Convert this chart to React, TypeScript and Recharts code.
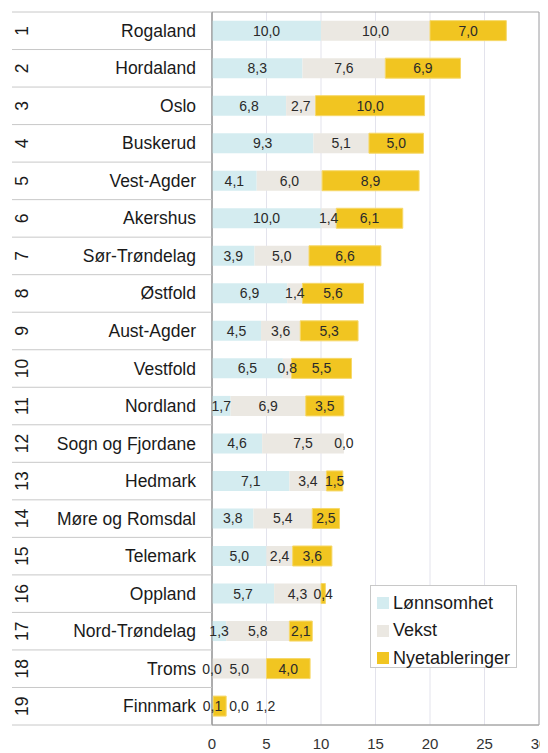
import React from 'react';
import {
  BarChart,
  Bar,
  XAxis,
  YAxis,
  CartesianGrid,
  LabelList,
  Legend,
  ReferenceArea,
} from 'recharts';

const categories = [
  'Rogaland', 'Hordaland', 'Oslo', 'Buskerud', 'Vest-Agder', 'Akershus',
  'Sør-Trøndelag', 'Østfold', 'Aust-Agder', 'Vestfold', 'Nordland',
  'Sogn og Fjordane', 'Hedmark', 'Møre og Romsdal', 'Telemark', 'Oppland',
  'Nord-Trøndelag', 'Troms', 'Finnmark',
];
const ranks = ['1','2','3','4','5','6','7','8','9','10','11','12','13','14','15','16','17','18','19'];
const lonnsomhet = [10.0, 8.3, 6.8, 9.3, 4.1, 10.0, 3.9, 6.9, 4.5, 6.5, 1.7, 4.6, 7.1, 3.8, 5.0, 5.7, 1.3, 0.0, 0.1];
const vekst = [10.0, 7.6, 2.7, 5.1, 6.0, 1.4, 5.0, 1.4, 3.6, 0.8, 6.9, 7.5, 3.4, 5.4, 2.4, 4.3, 5.8, 5.0, 0.0];
const nyetableringer = [7.0, 6.9, 10.0, 5.0, 8.9, 6.1, 6.6, 5.6, 5.3, 5.5, 3.5, 0.0, 1.5, 2.5, 3.6, 0.4, 2.1, 4.0, 1.2];
const xTicks = [0, 5, 10, 15, 20, 25, 30];
const seriesNames = ['Lønnsomhet', 'Vekst', 'Nyetableringer'];
const seriesColors = ['#d4ecf0', '#ebe8e2', '#f1c521'];

const data = categories.map((name, i) => ({
  name,
  rank: ranks[i],
  lonnsomhet: lonnsomhet[i],
  vekst: vekst[i],
  nyetableringer: nyetableringer[i],
}));

const CHART_W = 540;
const CHART_H = 745;
const M_TOP = 4;
const M_RIGHT = 9;
const Y_AXIS_W = 204;
const X_AXIS_H = 28;
const PLOT_W = CHART_W - Y_AXIS_W - M_RIGHT;
const PLOT_H = CHART_H - M_TOP - X_AXIS_H;
const ROW_H = PLOT_H / categories.length;
const X_MAX = 30;
const PPU = PLOT_W / X_MAX;
const FONT = '"Liberation Sans", Arial, Helvetica, sans-serif';
const LABEL_FS = 14;

const fmt = (v: number) => v.toFixed(1).replace('.', ',');
const textW = (s: string) =>
  s.split('').reduce((a, c) => a + (c === ',' ? 0.278 : 0.556), 0) * LABEL_FS;

const YTick = (props: any) => {
  const { y, payload, index } = props;
  const i = typeof index === 'number' ? index : categories.indexOf(payload.value);
  const half = ROW_H / 2;
  return (
    <g>
      {i === 0 && (
        <line x1={4} x2={Y_AXIS_W} y1={y - half} y2={y - half} stroke="#c8c8c8" strokeWidth={1} />
      )}
      <line x1={4} x2={Y_AXIS_W} y1={y + half} y2={y + half} stroke="#c8c8c8" strokeWidth={1} />
      <text
        x={188}
        y={y}
        textAnchor="end"
        dominantBaseline="central"
        fontSize={17.5}
        fontFamily={FONT}
        fill="#1a1a1a"
      >
        {payload.value}
      </text>
      <text
        x={14}
        y={y}
        textAnchor="middle"
        dominantBaseline="central"
        fontSize={17.5}
        fontFamily={FONT}
        fill="#1a1a1a"
        transform={`rotate(-90 14 ${y})`}
      >
        {ranks[i]}
      </text>
    </g>
  );
};

// Each series draws its own label; zero-valued series (whose bar has no width)
// get their label drawn by the first non-zero series of the same row.
const makeLabel = (series: number) => (props: any) => {
  const { x, y, height, value } = props;
  const i = categories.indexOf(value);
  if (i < 0) return null;
  const vals = [lonnsomhet[i], vekst[i], nyetableringer[i]];
  let cumStart = 0;
  for (let k = 0; k < series; k++) cumStart += vals[k];
  const px = (v: number) => Number(x) + (v - cumStart) * PPU;
  const positions: number[] = [];
  let prevRight = -Infinity;
  let cum = 0;
  for (let k = 0; k < 3; k++) {
    const c = px(cum + vals[k] / 2);
    const w = textW(fmt(vals[k]));
    let cx = c;
    if (c - w / 2 < prevRight + 1) cx = prevRight + 7 + w / 2;
    prevRight = cx + w / 2;
    cum += vals[k];
    positions.push(cx);
  }
  const firstNonZero = vals.findIndex((v) => v > 0);
  const toDraw = [series];
  if (series === firstNonZero) {
    vals.forEach((v, k) => {
      if (v === 0) toDraw.push(k);
    });
  }
  const cy = Number(y) + Number(height) / 2;
  return (
    <g>
      {toDraw.map((k) => (
        <text
          key={k}
          x={positions[k]}
          y={cy}
          textAnchor="middle"
          dominantBaseline="central"
          fontSize={LABEL_FS}
          fontFamily={FONT}
          fill="#2a2a2a"
        >
          {fmt(vals[k])}
        </text>
      ))}
    </g>
  );
};

const LegendBox = () => (
  <div
    style={{
      position: 'relative',
      width: 147,
      height: 83,
      border: '1px solid #c8c8c8',
      background: '#ffffff',
      boxSizing: 'border-box',
      fontFamily: FONT,
      fontSize: 18,
      color: '#1a1a1a',
    }}
  >
    {seriesNames.map((n, k) => (
      <div
        key={n}
        style={{
          position: 'absolute',
          left: 6,
          top: 17 + k * 27.5 - 11,
          height: 22,
          display: 'flex',
          alignItems: 'center',
          whiteSpace: 'nowrap',
        }}
      >
        <span
          style={{
            display: 'inline-block',
            width: 12,
            height: 12,
            background: seriesColors[k],
            marginRight: 4,
          }}
        />
        <span>{n}</span>
      </div>
    ))}
  </div>
);

export default function App() {
  return (
    <div style={{ width: CHART_W, height: CHART_H, fontFamily: FONT }}>
      <BarChart
        width={CHART_W}
        height={CHART_H}
        data={data}
        layout="vertical"
        margin={{ top: M_TOP, right: M_RIGHT, bottom: 0, left: 0 }}
        barCategoryGap="23%"
      >
        <CartesianGrid horizontal={false} vertical={true} stroke="#e3e3ec" />
        <XAxis
          type="number"
          domain={[0, X_MAX]}
          ticks={xTicks}
          interval={0}
          height={X_AXIS_H}
          axisLine={{ stroke: '#a8a8a8' }}
          tickLine={false}
          tickSize={0}
          tickMargin={13}
          tick={{ fontSize: 15, fill: '#333', fontFamily: FONT }}
        />
        <YAxis
          type="category"
          dataKey="name"
          width={Y_AXIS_W}
          interval={0}
          axisLine={{ stroke: '#8c8c8c' }}
          tickLine={false}
          tick={<YTick />}
        />
        <ReferenceArea x1={0} x2={X_MAX} fill="none" stroke="#a8a8a8" strokeWidth={1} ifOverflow="visible" />
        <Bar dataKey="lonnsomhet" stackId="a" fill={seriesColors[0]} isAnimationActive={false}>
          <LabelList dataKey="name" content={makeLabel(0)} />
        </Bar>
        <Bar dataKey="vekst" stackId="a" fill={seriesColors[1]} isAnimationActive={false}>
          <LabelList dataKey="name" content={makeLabel(1)} />
        </Bar>
        <Bar
          dataKey="nyetableringer"
          stackId="a"
          fill={seriesColors[2]}
          stroke="#f6d86a"
          strokeWidth={1}
          isAnimationActive={false}
        >
          <LabelList dataKey="name" content={makeLabel(2)} />
        </Bar>
        <Legend
          layout="vertical"
          align="center"
          verticalAlign="middle"
          width={147}
          height={83}
          wrapperStyle={{ left: 362, top: 577, width: 147, height: 83 }}
          content={<LegendBox />}
        />
      </BarChart>
    </div>
  );
}
